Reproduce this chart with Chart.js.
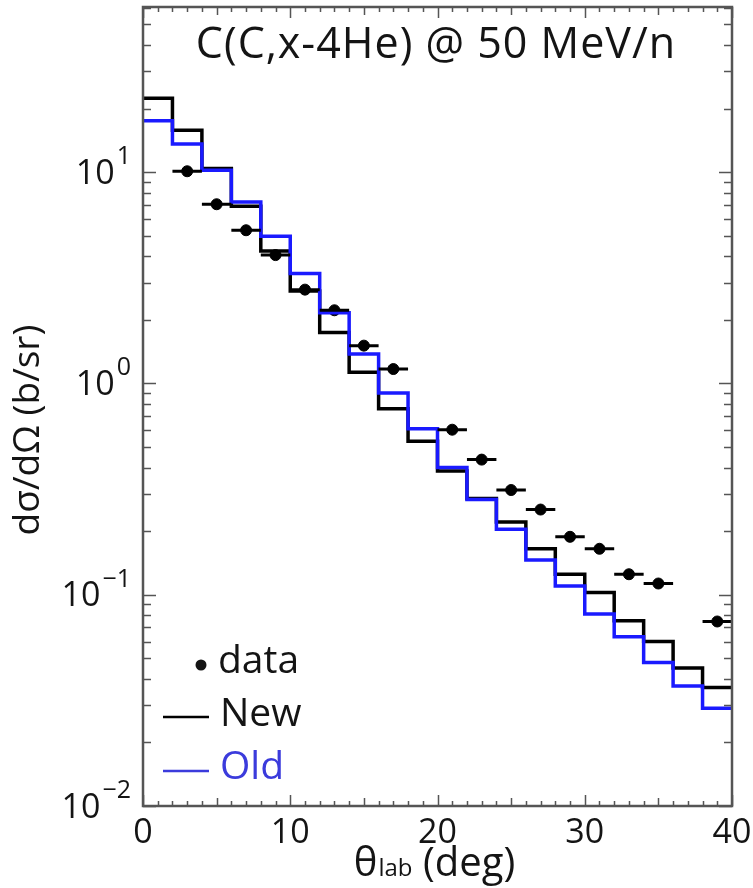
<!DOCTYPE html>
<html>
<head>
<meta charset="utf-8">
<title>C(C,x-4He) @ 50 MeV/n</title>
<script src="https://cdn.jsdelivr.net/npm/chart.js@4.4.0/dist/chart.umd.min.js"></script>
<style>
  html, body { margin: 0; padding: 0; background: #fff; }
  canvas { display: block; }
</style>
</head>
<body>
<canvas id="xsec" width="753" height="888"></canvas>
<script>
// 2-degree bins in theta_lab, histogram values in b/sr
var binEdges = [0, 2, 4, 6, 8, 10, 12, 14, 16, 18, 20, 22, 24, 26, 28, 30, 32, 34, 36, 38, 40];
var newValues = [22.4, 15.8, 10.4, 6.9, 4.24, 2.74, 1.74, 1.13, 0.76, 0.533,
                 0.385, 0.285, 0.221, 0.165, 0.125, 0.1025, 0.0753, 0.060, 0.045, 0.0364];
var oldValues = [17.5, 13.6, 10.2, 7.22, 4.98, 3.31, 2.16, 1.38, 0.90, 0.61,
                 0.40, 0.282, 0.204, 0.146, 0.110, 0.081, 0.0632, 0.0478, 0.037, 0.029];

// measured points, +-1 deg horizontal bars
var dataAngles = [3, 5, 7, 9, 11, 13, 15, 17, 21, 23, 25, 27, 29, 31, 33, 35, 39];
var dataValues = [10.1, 7.05, 5.31, 4.05, 2.78, 2.22, 1.51, 1.17, 0.604, 0.436,
                  0.313, 0.253, 0.188, 0.165, 0.125, 0.113, 0.0747];
var angleErr = 1;

var xTickValues = [0, 10, 20, 30, 40];
var yDecades = [1, 0, -1, -2];

var FONT = '"Open Sans", "Noto Sans", sans-serif';
var TEXT = '#141414';
var BLUE = '#1a1aff';

function histPoints(values) {
    var pts = values.map(function (v, i) { return { x: binEdges[i], y: v }; });
    pts.push({ x: binEdges[binEdges.length - 1], y: values[values.length - 1] });
    return pts;
}

var dataPoints = dataAngles.map(function (a, i) { return { x: a, y: dataValues[i] }; });

// frame, inside ticks, labels, title, legend and error bars
var decor = {
    id: 'decor',
    afterDatasetsDraw: function (chart) {
        var c = chart.ctx, xs = chart.scales.x, ys = chart.scales.y;
        c.save();
        c.strokeStyle = '#000';
        c.lineWidth = 3;
        c.beginPath();
        dataPoints.forEach(function (p) {
            var py = ys.getPixelForValue(p.y);
            c.moveTo(xs.getPixelForValue(p.x - angleErr), py);
            c.lineTo(xs.getPixelForValue(p.x + angleErr), py);
        });
        c.stroke();
        c.restore();
    },
    afterDraw: function (chart) {
        var c = chart.ctx, a = chart.chartArea, xs = chart.scales.x, ys = chart.scales.y;
        c.save();

        // x ticks: bottom and top
        c.strokeStyle = '#555';
        c.lineWidth = 1.5;
        c.beginPath();
        for (var t = 0; t <= 40; t++) {
            var len = t % 10 === 0 ? 11 : (t % 5 === 0 ? 8 : 5);
            var px = Math.round(xs.getPixelForValue(t)) + 0.5;
            c.moveTo(px, a.bottom); c.lineTo(px, a.bottom - len);
            c.moveTo(px, a.top); c.lineTo(px, a.top + len);
        }
        // y ticks: left and right
        for (var d = -2; d <= 1; d++) {
            for (var m = 1; m <= 9; m++) {
                var v = m * Math.pow(10, d);
                if (v > ys.max) break;
                var ylen = m === 1 ? 13 : 8;
                var py = Math.round(ys.getPixelForValue(v)) + 0.5;
                c.moveTo(a.left, py); c.lineTo(a.left + ylen, py);
                c.moveTo(a.right, py); c.lineTo(a.right - ylen, py);
            }
        }
        c.stroke();

        // frame
        c.strokeStyle = '#555';
        c.lineWidth = 2.5;
        c.strokeRect(a.left, a.top, a.right - a.left, a.bottom - a.top);

        c.fillStyle = TEXT;

        // x tick labels
        c.font = '34px ' + FONT;
        c.textAlign = 'center';
        c.textBaseline = 'middle';
        xTickValues.forEach(function (v) {
            c.fillText(String(v), xs.getPixelForValue(v), a.bottom + 27);
        });

        // y tick labels 10^n
        yDecades.forEach(function (n) {
            var py = ys.getPixelForValue(Math.pow(10, n));
            var sup = n < 0 ? '\u2212' + (-n) : String(n);
            c.font = '25px ' + FONT;
            var ws = c.measureText(sup).width;
            var right = a.left - 12;
            c.textAlign = 'left';
            c.textBaseline = 'alphabetic';
            c.fillText(sup, right - ws, py - 8);
            c.font = '34px ' + FONT;
            c.textAlign = 'right';
            c.textBaseline = 'middle';
            c.fillText('10', right - ws - 2, py + 2);
        });

        // x title: theta with subscript lab
        c.textBaseline = 'alphabetic';
        c.textAlign = 'left';
        var base = 876;
        c.font = '40px ' + FONT;
        var w1 = c.measureText('\u03b8').width;
        c.font = '24px ' + FONT;
        var w2 = c.measureText('lab').width;
        c.font = '40px ' + FONT;
        var w3 = c.measureText(' (deg)').width;
        var x0 = 434 - (w1 + w2 + w3) / 2;
        c.fillText('\u03b8', x0, base);
        c.font = '24px ' + FONT;
        c.fillText('lab', x0 + w1 + 1, base);
        c.font = '40px ' + FONT;
        c.fillText(' (deg)', x0 + w1 + w2 + 1, base);

        // y title
        c.save();
        c.translate(28, 430);
        c.rotate(-Math.PI / 2);
        c.textAlign = 'center';
        c.textBaseline = 'middle';
        c.font = '37px ' + FONT;
        c.fillText('d\u03c3/d\u03a9 (b/sr)', 0, 0);
        c.restore();

        // title
        c.font = '43px ' + FONT;
        c.letterSpacing = '1px';
        c.textAlign = 'center';
        c.textBaseline = 'middle';
        c.fillText('C(C,x-4He) @ 50 MeV/n', 436, 46);
        c.letterSpacing = '0px';

        // legend
        c.textAlign = 'left';
        c.font = '39px ' + FONT;
        c.beginPath();
        c.arc(201, 665, 5.5, 0, Math.PI * 2);
        c.fill();
        c.fillText('data', 218, 662);
        c.strokeStyle = '#000';
        c.lineWidth = 2.5;
        c.beginPath(); c.moveTo(163, 717); c.lineTo(209, 717); c.stroke();
        c.fillText('New', 220, 715);
        c.strokeStyle = '#3b3bdc';
        c.beginPath(); c.moveTo(163, 771); c.lineTo(209, 771); c.stroke();
        c.fillStyle = '#3b3bdc';
        c.fillText('Old', 220, 768);

        c.restore();
    }
};

new Chart(document.getElementById('xsec'), {
    type: 'line',
    data: {
        datasets: [{
            label: 'Old',
            data: histPoints(oldValues),
            stepped: true,
            borderColor: BLUE,
            borderWidth: 3.5,
            pointRadius: 0,
            fill: false
        }, {
            label: 'New',
            data: histPoints(newValues),
            stepped: true,
            borderColor: '#000',
            borderWidth: 3.5,
            pointRadius: 0,
            fill: false
        }, {
            label: 'data',
            data: dataPoints,
            showLine: false,
            pointRadius: 5.5,
            pointBackgroundColor: '#000',
            pointBorderColor: '#000'
        }]
    },
    options: {
        responsive: false,
        animation: false,
        layout: { padding: { left: 143, right: 21, top: 7, bottom: 82 } },
        plugins: { legend: { display: false }, tooltip: { enabled: false } },
        scales: {
            x: { type: 'linear', min: 0, max: 40, display: false },
            y: { type: 'logarithmic', min: 0.01, max: 60.5, display: false }
        }
    },
    plugins: [decor]
});
</script>
</body>
</html>
